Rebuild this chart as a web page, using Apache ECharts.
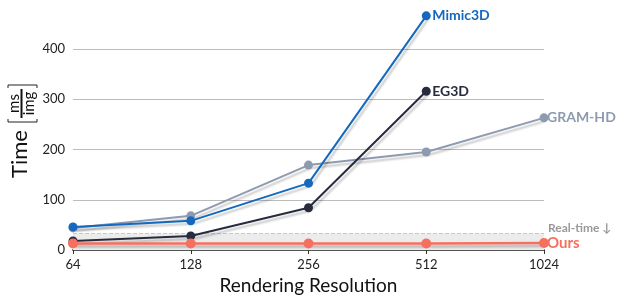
<!DOCTYPE html>
<html><head><meta charset="utf-8">
<script src="https://cdn.jsdelivr.net/npm/echarts@6/dist/echarts.min.js"></script>
<style>html,body{margin:0;padding:0;background:#fff}#c{width:624px;height:300px}</style>
</head><body><div id="c"></div>
<script>
const categories = ['64', '128', '256', '512', '1024'];
const mimic3d = [46, 58, 133, 466, null];
const eg3d = [18, 28, 84, 316, null];
const gramhd = [44, 68, 169, 195, 263];
const ours = [13, 13, 13, 13, 14];
const realTime = 33;
const yTicks = [0, 100, 200, 300, 400];

const FONT = 'Lato, "Open Sans", sans-serif';
const chart = echarts.init(document.getElementById('c'));

function mk(name, data, color, width, z, sym) {
  return {
    name, type: 'line', data, clip: false, z,
    symbol: 'circle', symbolSize: sym,
    itemStyle: { color },
    lineStyle: { color, width, shadowColor: 'rgba(0,0,0,0.22)', shadowBlur: 2, shadowOffsetX: 2, shadowOffsetY: 3 },
    emphasis: { disabled: true },
    endLabel: { show: true, formatter: name, color, fontFamily: FONT, fontWeight: 'bold', fontSize: 14, distance: 6 }
  };
}

const series = [
  mk('GRAM-HD', gramhd, '#8e9ab0', 2, 3, 9),
  mk('Mimic3D', mimic3d, '#1468bd', 2, 4, 9),
  mk('EG3D', eg3d, '#272b3d', 2, 5, 9),
  mk('Ours', ours, '#f6705f', 2.5, 6, 10)
];
series[3].endLabel.fontSize = 15;
series[3].endLabel.distance = 3;
series[0].endLabel.distance = 3;
series[3].markArea = {
  silent: true,
  itemStyle: { color: '#ececec' },
  data: [[{ yAxis: 0, xAxis: categories[0] }, { yAxis: realTime, xAxis: categories[categories.length - 1] }]]
};
series[3].markLine = {
  silent: true, symbol: 'none',
  lineStyle: { color: '#c8c8c8', type: 'dashed', width: 1 },
  label: { position: 'end', formatter: 'Real-time ↓', color: '#999', fontFamily: FONT, fontWeight: 'bold', fontSize: 12, offset: [0, -5], distance: 4 },
  data: [{ yAxis: realTime }]
};

chart.setOption({
  animation: false,
  grid: { left: 73, right: 80, top: 49, bottom: 50 },
  xAxis: {
    type: 'category', data: categories, boundaryGap: false,
    name: 'Rendering Resolution', nameLocation: 'middle', nameGap: 26,
    nameTextStyle: { fontFamily: FONT, fontSize: 19, color: '#111' },
    axisLine: { lineStyle: { color: '#555', width: 2 } },
    axisTick: { show: true, length: 4, lineStyle: { color: '#333' } },
    axisLabel: { fontFamily: FONT, fontSize: 13, color: '#222', margin: 8 },
    splitLine: { show: false }
  },
  yAxis: {
    type: 'value', min: yTicks[0], max: yTicks[yTicks.length - 1], interval: 100,
    axisLine: { show: false }, axisTick: { show: false },
    axisLabel: { fontFamily: FONT, fontSize: 13, color: '#222', margin: 8 },
    splitLine: { lineStyle: { color: '#bcbcbc', width: 1 } }
  },
  series,
  graphic: [{
    type: 'group', x: 20, y: 178, rotation: Math.PI / 2,
    children: [
      { type: 'text', x: 0, y: 0, style: { text: 'Time', fontFamily: FONT, fontSize: 22, fill: '#111', verticalAlign: 'middle', align: 'left' } },
      { type: 'polyline', shape: { points: [[59, -12], [56, -12], [56, 17], [59, 17]] }, style: { stroke: '#222', lineWidth: 1, fill: null } },
      { type: 'text', x: 74.5, y: -6, style: { text: 'ms', fontFamily: FONT, fontSize: 15, fill: '#111', verticalAlign: 'middle', align: 'center' } },
      { type: 'line', shape: { x1: 60, y1: 1.5, x2: 89, y2: 1.5 }, style: { stroke: '#111', lineWidth: 2 } },
      { type: 'text', x: 74.5, y: 9, style: { text: 'img', fontFamily: FONT, fontSize: 15, fill: '#111', verticalAlign: 'middle', align: 'center' } },
      { type: 'polyline', shape: { points: [[90, -12], [93, -12], [93, 17], [90, 17]] }, style: { stroke: '#222', lineWidth: 1, fill: null } }
    ]
  }]
});
</script></body></html>
